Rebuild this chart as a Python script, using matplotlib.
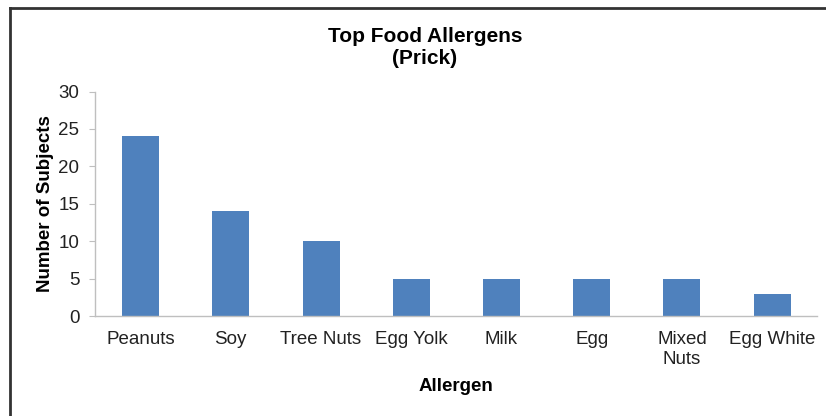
import matplotlib.pyplot as plt
from matplotlib.lines import Line2D

plt.rcParams['font.family'] = ['Liberation Sans', 'DejaVu Sans']

allergens = ['Peanuts', 'Soy', 'Tree Nuts', 'Egg Yolk', 'Milk', 'Egg', 'Mixed\nNuts', 'Egg White']
subjects = [24, 14, 10, 5, 5, 5, 5, 3]

fig = plt.figure(figsize=(8.26, 4.16), dpi=100)
ax = fig.add_axes([0.1155, 0.24, 0.874, 0.54])

ax.bar(range(len(allergens)), subjects, width=0.41, color='#4F81BD')
ax.set_xlim(-0.5, len(allergens) - 0.5)
ax.set_ylim(0, 30)
ax.set_yticks(range(0, 31, 5))
ax.set_xticks(range(len(allergens)))
ax.set_xticklabels(allergens, fontsize=13.5, color='#222222', linespacing=1.25)
ax.tick_params(axis='x', length=0, pad=10.5)
ax.tick_params(axis='y', length=4, color='#BFBFBF', labelsize=13.5, labelcolor='#222222', pad=7.5)

for s in ['top', 'right']:
    ax.spines[s].set_visible(False)
for s in ['left', 'bottom']:
    ax.spines[s].set_color('#BFBFBF')
    ax.spines[s].set_linewidth(1)

ax.set_xlabel('Allergen', fontsize=13.5, fontweight='bold', labelpad=7)
ax.set_ylabel('Number of Subjects', fontsize=13.5, fontweight='bold', labelpad=3)
fig.text(0.5145, 0.885, 'Top Food Allergens\n(Prick)', ha='center', va='center',
         fontsize=15, fontweight='bold', linespacing=1.2)

# outer frame (only top and left visible in the cropped source)
fig.add_artist(Line2D([0.012, 1.0], [0.981, 0.981], color='#333333', lw=2, transform=fig.transFigure))
fig.add_artist(Line2D([0.012, 0.012], [0.0, 0.981], color='#333333', lw=2, transform=fig.transFigure))

fig.savefig('out.png', dpi=100)
